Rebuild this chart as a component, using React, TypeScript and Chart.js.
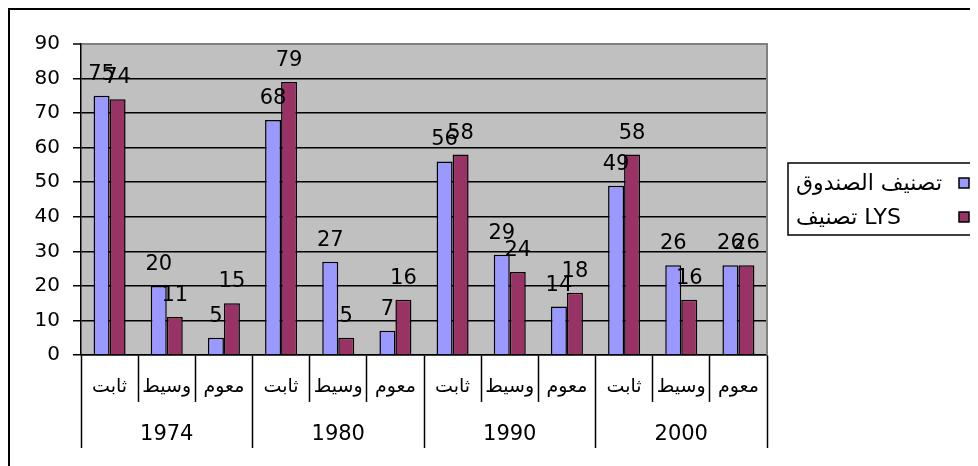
import React, { useEffect, useRef } from 'react';
import { Chart, registerables } from 'chart.js';

Chart.register(...registerables);

// ---------- data ----------
const SUB_CATEGORIES = ['ثابت', 'وسيط', 'معوم', 'ثابت', 'وسيط', 'معوم', 'ثابت', 'وسيط', 'معوم', 'ثابت', 'وسيط', 'معوم'];
const YEARS = ['1974', '1980', '1990', '2000'];
const SERIES_NAMES = ['تصنيف الصندوق', 'تصنيف LYS'];
const FUND_VALUES = [75, 20, 5, 68, 27, 7, 56, 29, 14, 49, 26, 26];
const LYS_VALUES = [74, 11, 15, 79, 5, 16, 58, 24, 18, 58, 16, 26];
const Y_TICKS = [0, 10, 20, 30, 40, 50, 60, 70, 80, 90];

// ---------- style ----------
const FONT = '"DejaVu Sans", sans-serif';
const SERIES_COLORS = ['#9999FF', '#993366'];

// legend box geometry (canvas px, relative to chart area right edge)
const LEGEND_GAP = 21;
const LEGEND_W = 184;
const LEGEND_TOP = 153;
const LEGEND_ROW = 34;
const LEGEND_FONT = 22;

const plotDecor = {
  id: 'plotDecor',
  beforeDraw(chart: any) {
    const { ctx, chartArea: a } = chart;
    ctx.save();
    ctx.fillStyle = '#C0C0C0';
    ctx.fillRect(a.left, a.top, a.right - a.left, a.bottom - a.top);
    ctx.restore();
  },
  afterDatasetsDraw(chart: any) {
    const { ctx, chartArea: a } = chart;
    ctx.save();
    ctx.strokeStyle = '#808080';
    ctx.lineWidth = 2;
    ctx.beginPath();
    ctx.moveTo(a.right, a.top - 1);
    ctx.lineTo(a.right, a.bottom);
    ctx.stroke();
    // value labels
    ctx.font = `21px ${FONT}`;
    ctx.fillStyle = '#000';
    ctx.textAlign = 'center';
    ctx.textBaseline = 'alphabetic';
    chart.data.datasets.forEach((ds: any, di: number) => {
      const meta = chart.getDatasetMeta(di);
      meta.data.forEach((bar: any, i: number) => {
        ctx.fillText(String(ds.data[i]), bar.x, bar.y - 16);
      });
    });
    ctx.restore();
  },
  afterDraw(chart: any) {
    // legend (right-to-left: swatch on the right, text on the left)
    const { ctx, chartArea } = chart;
    const left = chartArea.right + LEGEND_GAP;
    const right = left + LEGEND_W;
    const datasets = chart.data.datasets;
    const h = LEGEND_ROW * datasets.length + 4;
    ctx.save();
    ctx.strokeStyle = '#000';
    ctx.lineWidth = 1.5;
    ctx.strokeRect(left, LEGEND_TOP, LEGEND_W, h);
    ctx.font = `${LEGEND_FONT}px ${FONT}`;
    ctx.textBaseline = 'middle';
    ctx.textAlign = 'left';
    datasets.forEach((ds: any, i: number) => {
      const cy = LEGEND_TOP + 20 + i * LEGEND_ROW;
      ctx.fillStyle = ds.backgroundColor;
      ctx.fillRect(right - 13, cy - 5, 10, 10);
      ctx.lineWidth = 1.5;
      ctx.strokeRect(right - 13, cy - 5, 10, 10);
      ctx.fillStyle = '#000';
      ctx.fillText(ds.label, left + 8, cy + 1);
    });
    ctx.restore();
  },
};

export default function App() {
  const ref = useRef<HTMLCanvasElement | null>(null);

  useEffect(() => {
    if (!ref.current) return;
    Chart.defaults.font.family = FONT;
    Chart.defaults.color = '#000';
    const chart = new Chart(ref.current, {
      type: 'bar',
      data: {
        labels: SUB_CATEGORIES,
        datasets: [
          {
            label: SERIES_NAMES[0],
            data: FUND_VALUES,
            backgroundColor: SERIES_COLORS[0],
            borderColor: '#000',
            borderWidth: 1.5,
            categoryPercentage: 0.56,
            barPercentage: 1,
          },
          {
            label: SERIES_NAMES[1],
            data: LYS_VALUES,
            backgroundColor: SERIES_COLORS[1],
            borderColor: '#000',
            borderWidth: 1.5,
            categoryPercentage: 0.56,
            barPercentage: 1,
          },
        ],
      },
      options: {
        responsive: false,
        animation: false,
        events: [],
        layout: { padding: { left: 0, right: 211, top: 34, bottom: 18 } },
        plugins: {
          tooltip: { enabled: false },
          title: { display: false },
          legend: { display: false },
        },
        scales: {
          x: {
            type: 'category',
            position: 'bottom',
            offset: true,
            grid: {
              display: true,
              offset: true,
              drawOnChartArea: false,
              drawTicks: true,
              tickLength: 47,
              tickColor: '#000',
              tickWidth: 1.5,
              color: '#000',
            },
            border: { display: true, color: '#000', width: 1.5 },
            ticks: {
              autoSkip: false,
              maxRotation: 0,
              minRotation: 0,
              padding: -26.4,
              color: '#000',
              font: { family: FONT, size: 19, lineHeight: 1.2 },
            },
            afterFit: (s: any) => {
              s.height = 47;
            },
          },
          x2: {
            type: 'category',
            position: 'bottom',
            labels: YEARS,
            offset: true,
            grid: {
              display: true,
              offset: true,
              drawOnChartArea: false,
              drawTicks: true,
              tickLength: 46,
              tickColor: '#000',
              tickWidth: 1.5,
              color: '#000',
            },
            border: { display: false },
            ticks: {
              autoSkip: false,
              maxRotation: 0,
              minRotation: 0,
              padding: -25.6,
              color: '#000',
              font: { family: FONT, size: 21, lineHeight: 1.2 },
            },
            afterFit: (s: any) => {
              s.height = 46;
            },
          },
          y: {
            type: 'linear',
            position: 'left',
            min: 0,
            max: 90,
            afterBuildTicks: (s: any) => {
              s.ticks = Y_TICKS.map((v) => ({ value: v }));
            },
            grid: {
              display: true,
              drawTicks: true,
              tickLength: 8,
              tickColor: '#000',
              tickWidth: 1.5,
              color: (c: any) => (c.tick && c.tick.value === 90 ? '#808080' : '#000'),
              lineWidth: (c: any) => (c.tick && c.tick.value === 90 ? 2 : 1.5),
            },
            border: { display: true, color: '#000', width: 1.5 },
            ticks: {
              padding: 13,
              color: '#000',
              font: { family: FONT, size: 20 },
            },
            afterFit: (s: any) => {
              s.width = 71;
            },
          },
        },
      } as any,
      plugins: [plotDecor],
    });
    return () => chart.destroy();
  }, []);

  return (
    <div
      style={{
        width: 970,
        height: 458,
        borderTop: '2px solid #000',
        borderLeft: '2px solid #000',
        boxSizing: 'border-box',
      }}
    >
      <canvas ref={ref} width={968} height={456} style={{ display: 'block', width: 968, height: 456 }} />
    </div>
  );
}
